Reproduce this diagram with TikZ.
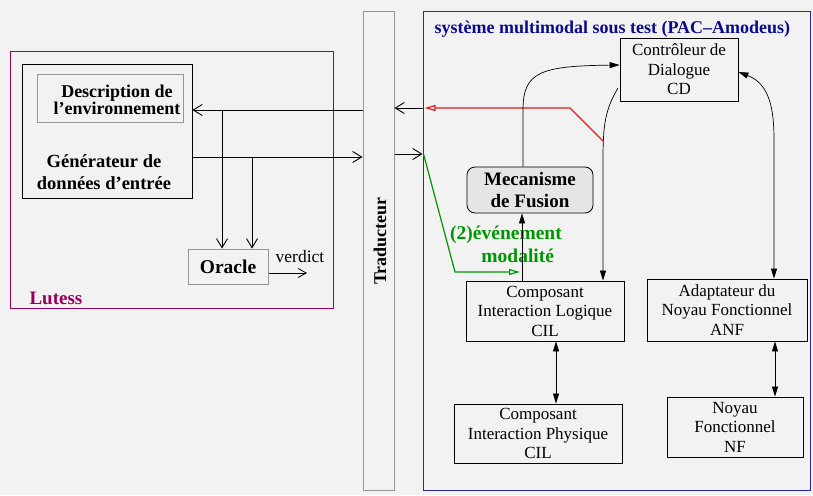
\documentclass[tikz,border=0pt]{standalone}
\usepackage{fontspec}
\setmainfont{Liberation Serif}
\usetikzlibrary{arrows.meta, positioning}
\definecolor{bgcol}{RGB}{242,242,242}
\definecolor{lutcol}{RGB}{150,0,90}
\definecolor{syscol}{RGB}{40,40,170}
\definecolor{titcol}{RGB}{10,10,140}
\definecolor{redcol}{RGB}{220,30,30}
\definecolor{grncol}{RGB}{0,150,0}
\definecolor{grycol}{RGB}{150,150,150}
\tikzset{
    box/.style={
        rectangle,
        draw=black,
        line width=0.8pt,
        align=center,
        inner sep=0pt,
        font=\fontsize{17}{19.5}\selectfont
    },
    graybox/.style={
        box,
        draw=grycol,
        line width=1pt
    },
    frame/.style={
        rectangle,
        line width=1pt,
        inner sep=0pt
    },
    bigtext/.style={
        font=\fontsize{18}{22}\selectfont\bfseries
    },
    oarrow/.style={
        -{Straight Barb[length=9pt,width=11pt]},
        line width=0.9pt,
        draw=black
    },
    farrow/.style={
        -{Stealth[length=10pt,width=6pt,inset=0pt]},
        line width=0.7pt,
        draw=black
    },
    darrow/.style={
        {Stealth[length=10pt,width=6pt,inset=0pt]}-{Stealth[length=10pt,width=6pt,inset=0pt]},
        line width=0.7pt,
        draw=black
    },
    tarrow/.style={
        -{Triangle[open,length=11pt,width=6pt]},
        line width=1.2pt
    }
}

\begin{document}
\begin{tikzpicture}[x=1pt, y=-1pt]
    % Background
    \fill[bgcol] (0,0) rectangle (813,495);
    \useasboundingbox (0,0) rectangle (813,495);

    % Lutess side
    \node[frame, draw=lutcol, minimum width=323, minimum height=256] (lutess) at (171.5,180) {};
    \node[font=\fontsize{19}{22}\selectfont\bfseries, text=lutcol, anchor=base west] (lutlbl) at (26,304) {Lutess};
    \node[box, minimum width=170, minimum height=134] (gen) at (107,131) {};
    \node[graybox, minimum width=146, minimum height=48] (desc) at (110,98) {};
    \node[font=\fontsize{18}{15}\selectfont\bfseries, align=center] (desctxt) at (117,100)
        {Description de\\l'environnement};
    \node[font=\fontsize{18.5}{22}\selectfont\bfseries, align=center] (gentxt) at (104,172)
        {Générateur de\\données d'entrée};
    \node[graybox, minimum width=80, minimum height=35, font=\fontsize{19.5}{20}\selectfont\bfseries]
        (oracle) at (228,266.5) {Oracle};

    % Traducteur
    \node[frame, draw=grycol, minimum width=31, minimum height=478] (trad) at (378.5,251) {};
    \node[bigtext, rotate=90] (tradtxt) at (380,241) {Traducteur};

    % System under test
    \node[frame, draw=syscol, minimum width=387, minimum height=478] (sys) at (616.5,251) {};
    \node[font=\fontsize{18}{20}\selectfont\bfseries, text=titcol, anchor=base west]
        (systit) at (431,34) {système multimodal sous test (PAC--Amodeus)};
    \node[box, minimum width=118, minimum height=63] (cd) at (679,69.5)
        {Contrôleur de\\Dialogue\\CD};
    \node[box, rounded corners=8pt, fill=black!10, minimum width=126, minimum height=46,
        font=\fontsize{19}{22}\selectfont\bfseries] (fusion) at (530,190) {Mecanisme\\de Fusion};
    \node[box, minimum width=158, minimum height=60] (cil) at (545,311)
        {Composant\\Interaction Logique\\CIL};
    \node[box, minimum width=160, minimum height=62] (anf) at (727,310)
        {Adaptateur du\\Noyau Fonctionnel\\ANF};
    \node[box, minimum width=168, minimum height=59] (cip) at (538,433.5)
        {Composant\\Interaction Physique\\CIL};
    \node[box, minimum width=136, minimum height=60] (nf) at (735,427)
        {Noyau\\Fonctionnel\\NF};

    % Lutess connectors
    \coordinate (envy) at (0,110);
    \coordinate (geny) at (0,157);
    \coordinate (br1) at (222,110);
    \coordinate (br2) at (252,157);
    \draw[oarrow] (trad.west |- envy) -- (gen.east |- envy);
    \draw[oarrow] (gen.east |- geny) -- (trad.west |- geny);
    \draw[oarrow] (br1) -- (br1 |- oracle.north);
    \draw[oarrow] (br2) -- (br2 |- oracle.north);
    \coordinate (verd) at (307,273);
    \draw[-{Straight Barb[length=8pt,width=9pt]}, line width=0.8pt] (oracle.east |- verd) -- (verd);
    \node[font=\fontsize{17.5}{18}\selectfont] (verdtxt) at (300,257) {verdict};

    % Traducteur <-> system
    \coordinate (outy) at (0,108);
    \coordinate (iny) at (0,154);
    \draw[oarrow] (sys.west |- outy) -- (trad.east |- outy);
    \draw[oarrow] (trad.east |- iny) -- (sys.west |- iny);

    % Red output event
    \coordinate (redst) at (603,141);
    \draw[tarrow, redcol] (redst) -- (570,108) -- ([xshift=2]sys.west |- outy);

    % Green input event
    \coordinate (grnend) at (520,272);
    \draw[tarrow, grncol] ([xshift=1]sys.west |- iny) -- (455,272) -- (grnend);
    \node[font=\fontsize{19.5}{23}\selectfont\bfseries, text=grncol, align=center]
        (grntxt) at (506,244) {(2)événement\\\hspace*{1.2em}modalité};

    % PAC connectors
    \draw[farrow] (cil.north -| 522,0) -- (fusion.south -| 522,0);
    \draw[farrow] (fusion.north -| 523,0) -- (523,110)
        .. controls (523,72) and (540,66) .. (cd.west |- 0,65);
    \draw[farrow] (618,88) .. controls (605,110) and (603,125) .. (603,160)
        -- (cil.north -| 603,0);
    \draw[darrow] (cd.east |- 0,72) .. controls (770,84) and (774,110) .. (774,140)
        -- (anf.north -| 774,0);
    \draw[darrow] (cil.south -| 556,0) -- (cip.north -| 556,0);
    \draw[darrow] (anf.south -| 775,0) -- (nf.north -| 775,0);
\end{tikzpicture}
\end{document}
